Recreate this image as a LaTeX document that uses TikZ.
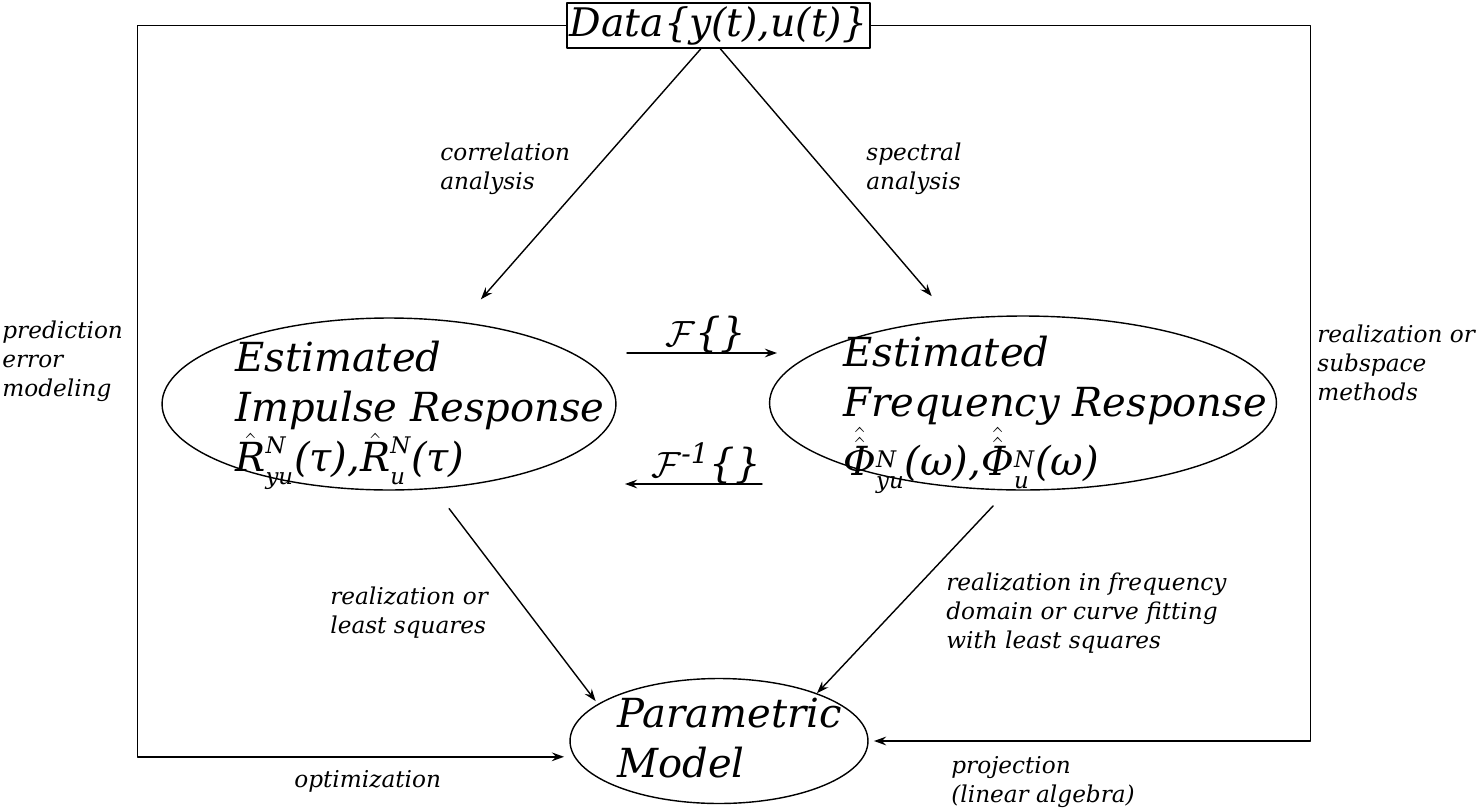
\documentclass[tikz,border=0pt]{standalone}
\usepackage{fontspec}
\setmainfont{DejaVu Serif}
\usepackage{amsmath}
\usetikzlibrary{shapes.geometric,arrows.meta}
\newcommand{\bigtxt}{\fontsize{22.8}{28.4}\selectfont\itshape}
\newcommand{\datatxt}{\fontsize{22.4}{28.4}\selectfont\itshape}
\newcommand{\smalltxt}{\fontsize{13.2}{16.4}\selectfont\itshape}
% superscript and subscript of the estimates
\newcommand{\est}[3]{#1^{\raisebox{-5pt}{\text{\fontsize{13}{13}\selectfont #2}}}_{\raisebox{-2pt}{\text{\fontsize{13}{13}\selectfont #3}}}}

\begin{document}
\begin{tikzpicture}[x=0.02cm,y=-0.02cm,line cap=round,line join=round,
  conn/.style={line width=0.8pt,-{Stealth[length=7pt,width=5pt,inset=2.5pt]}},
  oval/.style={draw,ellipse,line width=0.8pt,inner sep=0pt},
  bigtext/.style={anchor=north west,inner sep=0pt,align=left,font=\bigtxt},
  note/.style={anchor=north west,inner sep=0pt,align=left,font=\smalltxt}]
  \useasboundingbox (0,0) rectangle (1477,808);

  % blocks
  \node[draw,line width=0.8pt,minimum width=6.06cm,minimum height=0.9cm,
    inner sep=0pt,font=\datatxt] (data) at (718.5,25.5) {Data\{y(t),u(t)\}};
  \node[oval,minimum width=9.08cm,minimum height=3.44cm] (impulse) at (389,404) {};
  \node[oval,minimum width=10.14cm,minimum height=3.48cm] (freq) at (1023,403) {};
  \node[oval,minimum width=5.96cm,minimum height=2.5cm] (model) at (719,741) {};

  \node[bigtext] (impulsetext) at (235,341) {Estimated\\Impulse Response\\
    $\est{\hat{\text{R}}}{N}{yu}$(τ),$\est{\hat{\text{R}}}{N}{u}$(τ)};
  \node[bigtext] (freqtext) at (843,336) {Estimated\\Frequency Response\\
    $\est{\hat{\hat{\text{Φ}}}}{N}{yu}$(ω),$\est{\hat{\hat{\text{Φ}}}}{N}{u}$(ω)};
  \node[bigtext] (modeltext) at (617,698) {Parametric\\Model};

  % transforms
  \coordinate (fwdstart) at (627,353);
  \coordinate (fwdend) at (777,353);
  \coordinate (invstart) at (762,484);
  \coordinate (invend) at (625,484);
  \draw[conn] (fwdstart) -- (fwdend);
  \draw[conn] (invstart) -- (invend);
  \node[inner sep=0pt,font=\bigtxt,anchor=base] (fwd) at (706,346) {$\mathcal{F}$\{\}};
  \node[inner sep=0pt,font=\bigtxt,anchor=base] (inv) at (706,477) {$\mathcal{F}^{\text{-1}}$\{\}};

  % connectors
  \draw[conn,shorten >=17pt] ([xshift=-10pt]data.south) -- (impulse);
  \draw[conn,shorten >=17pt] ([xshift=1pt]data.south) -- (freq);
  \draw[conn,shorten <=14pt,shorten >=2pt] (impulse.-62) -- (model.163);
  \draw[conn,shorten <=12pt] (freq.-100) -- (model.26);
  \draw[conn] (data.west) -- ++(-429,0) |- ([xshift=-3pt,yshift=-9pt]model.west);
  \draw[conn] (data.east) -- ++(440,0) |- ([xshift=3pt]model.east);

  % labels
  \node[note] (corr) at (440,143) {correlation\\analysis};
  \node[note] (spec) at (866,143) {spectral\\analysis};
  \node[note] (pem) at (2,321) {prediction\\error\\modeling};
  \node[note] (subsp) at (1317,325) {realization or\\subspace\\methods};
  \node[note] (lsq) at (330,587) {realization or\\least squares};
  \node[note] (fit) at (946,573) {realization in frequency\\domain or curve fitting\\with least squares};
  \node[note] (opt) at (294,770) {optimization};
  \node[note] (proj) at (951,756) {projection\\(linear algebra)};
\end{tikzpicture}
\end{document}
